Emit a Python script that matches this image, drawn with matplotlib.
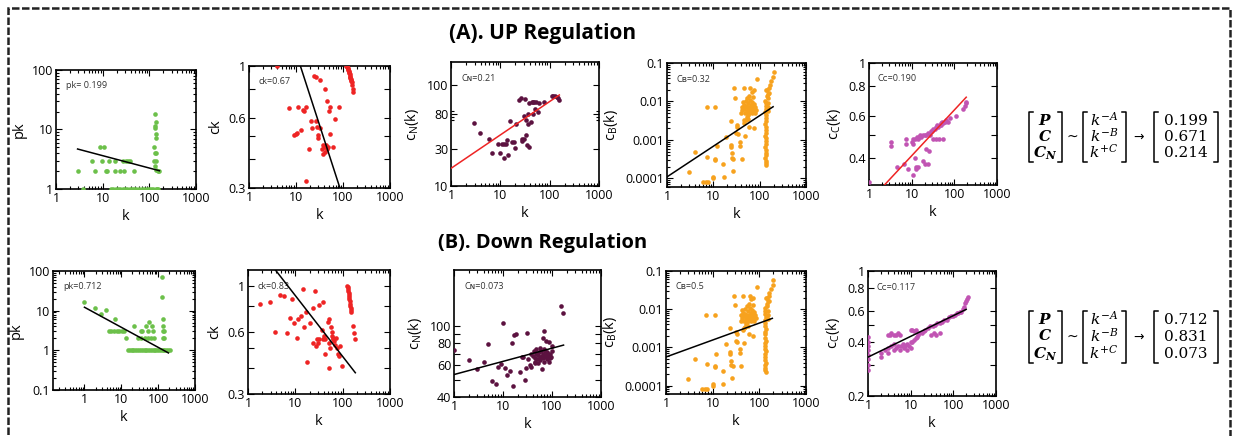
import matplotlib
matplotlib.use('Agg')
import matplotlib.pyplot as plt
import numpy as np
from matplotlib.lines import Line2D
from matplotlib.patches import Rectangle
from matplotlib.ticker import LogLocator, NullLocator, NullFormatter, FixedLocator

W, H = 1237, 436
plt.rcParams['font.family'] = ['Open Sans', 'DejaVu Sans']

GREEN = '#6cc04a'
RED = '#ee2424'
PURPLE = '#5c1240'
ORANGE = '#f7a21e'
ORCHID = '#c154b3'

# ---------------- (A) UP regulation ----------------
pk_up_k = [2.9, 6.9, 11.8, 12.6, 18.4, 23.5, 29, 47,
           5.8, 9.8, 14, 18, 27.7, 31, 35, 38.5,
           8.8, 10.7,
           3.8, 15, 17, 19, 21, 24, 27, 30, 34, 38, 42, 47, 53, 60, 68, 77, 88, 100, 110, 122,
           133, 137, 131, 135, 137, 140, 129, 130, 137, 128, 136, 131, 140, 150, 160, 145, 155, 138]
pk_up = [2, 2, 2, 2, 2, 2, 2, 2,
         3, 3, 3, 3, 3, 3, 3, 3,
         5, 5,
         1, 1, 1, 1, 1, 1, 1, 1, 1, 1, 1, 1, 1, 1, 1, 1, 1, 1, 1, 1,
         18, 13.2, 11.3, 10.4, 8.4, 7.1, 5.1, 4.0, 4.0, 3.0, 3.0, 2.4, 2.1, 2.0, 2.0, 1, 1, 1]

ck_up_k = [4.0, 7.1, 9.1, 9.9, 10.6, 11.3, 13, 14, 15, 16.3, 16.7, 18.5, 20.4, 22, 24.3, 27.3,
           26, 28, 28.7, 30, 32, 32.5, 35, 37, 38, 40, 42, 44, 46, 48, 41, 46, 50, 54, 52, 60, 66, 81,
           118, 121, 124, 126, 128, 130, 132, 134, 136, 138, 140, 142, 144, 146, 148, 150, 153, 156, 160, 165]
ck_up = [1.0, 0.66, 0.505, 0.51, 0.515, 0.67, 0.53, 0.65, 0.64, 0.67, 0.32, 0.44, 0.58, 0.54, 0.91, 0.90,
         0.58, 0.55, 0.505, 0.49, 0.87, 0.54, 0.44, 0.42, 0.46, 0.45, 0.43, 0.46, 0.44, 0.45, 0.80, 0.71, 0.64, 0.67, 0.51, 0.45, 0.59, 0.67,
         1.0, 1.0, 0.99, 0.98, 0.97, 0.96, 0.95, 0.94, 0.93, 0.92, 0.91, 0.90, 0.89, 0.88, 0.87, 0.86, 0.85, 0.83, 0.80, 0.77]

cn_up_k = [2.97, 3.9, 5.9, 6.9, 8.9, 9.9, 10.7, 12, 13.2, 12, 13.6, 14.6, 15.8, 17.1, 18.5, 20, 21, 24, 26, 31,
           27, 28, 30, 33, 35, 39, 30, 33, 36, 37, 42, 39, 44, 47, 49, 52, 45, 50, 57, 61, 77,
           110, 118, 128, 139, 150, 157]
cn_up = [65, 49, 41, 27, 35, 27, 34.5, 34.5, 34.5, 23, 39, 25, 70, 37, 37, 31, 64, 129, 136, 133,
         40, 38, 41, 46, 34, 31.6, 80, 71, 63, 85, 68, 119, 122, 120, 122, 122, 85, 100, 91, 117, 123,
         146, 146, 145, 142, 139, 131]

cc_up_k = [1, 3.3, 3.3, 4.6, 6.5, 7.2, 7.2, 8.2, 10.7, 11, 11, 11.7, 12.4, 12.8, 14, 18.5, 20, 24, 22, 26,
           31, 38, 44, 54,
           10, 12, 13, 14, 15, 16, 17, 18, 20, 22, 24, 27, 28, 30,
           32, 35, 38, 40, 42, 45, 48, 50, 52, 55, 60, 65, 70, 80,
           110, 160, 175, 190, 185]
cc_up = [0.32, 0.47, 0.45, 0.37, 0.38, 0.48, 0.46, 0.36, 0.34, 0.48, 0.46, 0.40, 0.37, 0.36, 0.37, 0.39, 0.38, 0.38, 0.44, 0.43,
         0.48, 0.48, 0.48, 0.48,
         0.47, 0.48, 0.49, 0.48, 0.49, 0.50, 0.49, 0.50, 0.50, 0.50, 0.51, 0.50, 0.52, 0.52,
         0.53, 0.53, 0.54, 0.55, 0.54, 0.55, 0.56, 0.55, 0.57, 0.56, 0.57, 0.58, 0.57, 0.59,
         0.60, 0.64, 0.66, 0.68, 0.69]

# betweenness is the same scatter in both rows
cb_k = [3, 4.1, 6, 7, 7.5, 7.2, 7.4, 11, 10, 10, 11, 11, 11.8, 17, 16.5, 19, 24, 24, 25, 25, 24, 26, 27, 28, 30,
        31, 32, 33, 34, 38, 38, 41, 45, 41, 46, 50, 48, 52, 57, 62, 67, 74, 87, 59, 74, 40, 45,
        42, 45, 48, 50, 52, 54, 55, 57, 58, 60, 62, 63, 65, 67, 68, 70, 72, 73, 75, 78, 80, 55, 47, 60, 66, 50, 85, 43, 52,
        133, 135, 134, 136, 133, 135, 134, 136, 133, 135, 134, 136, 133, 135, 134, 136, 133, 135, 134, 136, 133, 135, 134, 136,
        145, 150, 148, 152, 150, 155, 160, 165, 180, 195, 200, 158, 145, 140]
cb = [1.5e-4, 5e-4, 8e-5, 8e-5, 8e-5, 7e-3, 3.6e-4, 7e-3, 1.1e-4, 1e-4, 3e-4, 3.3e-4, 6.8e-4, 1.1e-4, 2.4e-4, 1.2e-3,
      7.5e-4, 6.5e-4, 4.5e-4, 3.5e-4, 3.2e-3, 1.6e-4, 3.2e-4, 0.022, 0.0125,
      1.5e-3, 2.5e-3, 2.2e-3, 1.4e-3, 9e-4, 7e-4, 3.2e-4, 0.022, 0.007, 3.3e-3, 3.4e-3, 1.3e-3, 4e-3, 3.6e-3, 0.022, 0.018, 0.02, 0.038, 2.2e-3, 2e-3, 5e-3, 2.8e-3,
      0.006, 0.008, 0.005, 0.01, 0.007, 0.012, 0.006, 0.009, 0.005, 0.007, 0.011, 0.006, 0.008, 0.005, 0.0095, 0.007, 0.013, 0.006, 0.0085, 0.005, 0.007, 0.0045, 0.0065, 0.014, 0.0065, 0.0075, 0.006, 0.0095, 0.0055,
      0.0105, 0.009, 0.0075, 0.0062, 0.0052, 0.0044, 0.0037, 0.0031, 0.0026, 0.0022, 0.0018, 0.0015, 0.0013, 0.0011, 0.00092, 0.00078,
      0.00066, 0.00056, 0.00047, 0.0004, 0.00034, 0.00029, 0.00025, 0.00023,
      0.02, 0.016, 0.012, 0.009, 0.007, 0.0055, 0.022, 0.027, 0.034, 0.044, 0.058, 0.0165, 0.0135, 0.02]

# ---------------- (B) DOWN regulation ----------------
pk_dn_k = [1, 1.9, 2.9, 3.8, 6.7, 4.7, 5.4, 6.4, 7.5, 8.8, 10.2, 11.6, 13.5, 22, 35, 48, 56, 70,
           28, 35, 43, 53, 65, 76, 37, 53, 73, 130, 130, 137, 137, 137, 142, 135, 142,
           15, 17, 19, 21, 24, 27, 30, 34, 38, 43, 48, 54, 60, 67, 75, 84, 94, 105, 118, 132, 148, 165, 185, 205]
pk_dn = [17, 11.5, 8.3, 10.5, 6.2, 3, 3, 3, 3, 3, 3, 3, 2, 4.2, 3, 4.2, 5.3, 4.2,
         2, 2, 2, 2, 2, 2, 3, 3, 3, 69, 22.6, 6.1, 4.2, 3.1, 3.1, 2, 2,
         1, 1, 1, 1, 1, 1, 1, 1, 1, 1, 1, 1, 1, 1, 1, 1, 1, 1, 1, 1, 1, 1, 1, 1]

ck_dn_k = [1.8, 2.85, 3.8, 4.7, 5.8, 6.6, 7.6, 8.7, 9.4, 10.6, 11.4, 13, 14.6, 15.3, 16.7, 18, 20.6, 24, 23.3, 26,
           27, 28.5, 30, 31.5, 32, 37.7, 36, 38, 41, 43, 43, 48, 51, 52, 54, 52, 57, 59, 60, 62, 64, 67, 70, 72, 76, 79, 83, 86, 97,
           125, 127, 129, 131, 133, 135, 137, 139, 141, 143, 145, 147, 149, 151, 165, 170, 185]
ck_dn = [0.82, 0.83, 0.60, 0.90, 0.89, 0.59, 0.70, 0.86, 0.66, 0.56, 0.69, 0.71, 0.96, 0.63, 0.75, 0.43, 0.66, 0.78, 0.53, 0.94,
         0.51, 0.55, 0.53, 0.55, 0.81, 0.83, 0.61, 0.55, 0.57, 0.55, 0.47, 0.67, 0.69, 0.53, 0.50, 0.40, 0.63, 0.60, 0.57, 0.55, 0.56, 0.54, 0.52, 0.56, 0.50, 0.47, 0.46, 0.51, 0.41,
         1.0, 0.98, 0.96, 0.94, 0.92, 0.90, 0.88, 0.86, 0.84, 0.82, 0.80, 0.78, 0.76, 0.75, 0.64, 0.59, 0.55]

cn_dn_k = [1, 2, 3, 4.1, 5, 5.9, 7.1, 7.8, 9, 9.9, 11, 11.9, 13.9, 15, 15.8, 16.8, 18.4, 22.4, 24.2, 26.1, 28.3, 29.6,
           30.6, 32, 35.8, 37, 65, 69, 76, 85, 99, 150, 166,
           38, 40, 42, 44, 45, 47, 48, 50, 52, 53, 55, 56, 58, 60, 62, 63, 65, 67, 68, 70, 72, 75, 78, 80, 82, 85, 88, 90, 92, 95, 100, 45, 57, 73]
cn_dn = [73, 64, 57, 63, 79, 49, 47, 59, 61, 104, 58, 53, 56, 80, 46, 89, 90, 55, 67, 67, 50, 58,
         91, 65, 60, 59, 86, 93, 82, 81, 77, 129, 118,
         70, 68, 72, 63, 66, 70, 74, 65, 69, 62, 71, 67, 64, 72, 68, 57, 70, 66, 74, 63, 69, 67, 71, 65, 70, 68, 63, 66, 70, 67, 72, 62, 75, 72]

cc_dn_k = [1, 1, 1, 1, 1, 1, 1, 1,
           2, 2, 2.5, 3, 3, 3.5, 4, 4, 4.5, 5, 5.5, 6, 6.5, 7, 7.5, 8, 8, 9, 10, 10, 11, 12, 13, 14, 15, 16, 18, 20, 22, 25,
           3, 3.2, 3.5, 4, 4.5, 5, 5.5, 10, 11, 12, 13,
           30, 35, 40, 48,
           28, 33, 38, 42, 48, 55, 62, 70, 80, 90, 98, 110, 120, 130, 140, 155,
           165, 175, 185, 195, 205, 215]
cc_dn = [0.43, 0.40, 0.38, 0.36, 0.34, 0.32, 0.30, 0.28,
         0.35, 0.33, 0.36, 0.37, 0.35, 0.38, 0.36, 0.39, 0.37, 0.38, 0.36, 0.38, 0.39, 0.37, 0.38, 0.39, 0.36, 0.38, 0.40, 0.37, 0.40, 0.41, 0.42, 0.43, 0.44, 0.45, 0.45, 0.46, 0.47, 0.48,
         0.44, 0.44, 0.45, 0.44, 0.44, 0.45, 0.44, 0.47, 0.47, 0.46, 0.47,
         0.44, 0.45, 0.44, 0.45,
         0.49, 0.49, 0.50, 0.51, 0.51, 0.52, 0.53, 0.53, 0.55, 0.56, 0.56, 0.57, 0.58, 0.58, 0.59, 0.59,
         0.61, 0.63, 0.66, 0.68, 0.70, 0.72]

# fitted power-law lines (end points)
fit_pk_up = ([2.9, 164], [4.7, 2.03])
fit_ck_up = ([12.4, 86], [1.0, 0.3])
fit_cn_up = ([1, 157], [16.9, 150])
fit_cb_up = ([1, 195], [1.1e-4, 7.3e-3])
fit_cc_up = ([2.3, 190], [0.31, 0.72])
fit_pk_dn = ([1, 190], [12.2, 0.86])
fit_ck_dn = ([3.8, 185], [1.19, 0.38])
fit_cn_dn = ([1, 172], [53.4, 78])
fit_cb_dn = ([1, 190], [5.6e-4, 5.75e-3])
fit_cc_dn = ([1, 200], [0.33, 0.61])

exp_up = ['0.199', '0.671', '0.214']
exp_dn = ['0.712', '0.831', '0.073']


def box(x0, y0, x1, y1):
    return [x0 / W, 1 - y1 / H, (x1 - x0) / W, (y1 - y0) / H]


def style_ax(ax, ylim, yticks, ylabels, yminor=None, xlim=(1, 1000)):
    ax.set_xscale('log')
    ax.set_yscale('log')
    ax.set_xlim(xlim)
    ax.set_ylim(ylim)
    ax.set_xticks([1, 10, 100, 1000], ['1', '10', '100', '1000'])
    ax.xaxis.set_minor_locator(LogLocator(base=10, subs=np.arange(2, 10), numticks=20))
    ax.xaxis.set_minor_formatter(NullFormatter())
    ax.set_yticks(yticks, ylabels)
    if yminor == 'log':
        ax.yaxis.set_minor_locator(LogLocator(base=10, subs=np.arange(2, 10), numticks=20))
    elif yminor is None:
        ax.yaxis.set_minor_locator(NullLocator())
    else:
        ax.yaxis.set_minor_locator(FixedLocator(yminor))
    ax.yaxis.set_minor_formatter(NullFormatter())
    ax.tick_params(which='both', direction='in', top=True, right=True, labelsize=9, width=0.8, pad=2)
    ax.tick_params(which='major', length=4.5)
    ax.tick_params(which='minor', length=2.2)
    for sp in ax.spines.values():
        sp.set_linewidth(1.2)


def panel(pos, k, y, color, fit, fitcolor, ylabel, note, ylim, yticks, ylabels, yminor=None, xlim=(1, 1000)):
    ax = fig.add_axes(box(*pos))
    ax.scatter(k, y, s=11, color=color, linewidths=0, zorder=3)
    ax.plot(fit[0], fit[1], color=fitcolor, lw=1.1, zorder=4)
    style_ax(ax, ylim, yticks, ylabels, yminor, xlim)
    ax.set_xlabel('k', fontsize=10.5, labelpad=3)
    ax.set_ylabel(ylabel, fontsize=10.5, labelpad=4)
    ax.text(0.07, 0.87, note, transform=ax.transAxes, fontsize=6.5, color='#333333', va='center')
    return ax


def bracket(x0, x1, y0, y1):
    for xs, ys in (([x0 + 4, x0, x0, x0 + 4], [y0, y0, y1, y1]),
                   ([x1 - 4, x1, x1, x1 - 4], [y0, y0, y1, y1])):
        fig.add_artist(Line2D([v / W for v in xs], [1 - v / H for v in ys], color='black', lw=1.1))


def matrix(rows_y, top, bottom, values, size):
    bracket(1029, 1062, top, bottom)
    bracket(1083, 1126, top, bottom)
    bracket(1154, 1218, top, bottom)
    mid = rows_y[1]
    left = [r'$\boldsymbol{P}$', r'$\boldsymbol{C}$', r'$\boldsymbol{C}_{\boldsymbol{N}}$']
    powers = [r'$k^{-A}$', r'$k^{-B}$', r'$k^{+C}$']
    for yy, a, b, v in zip(rows_y, left, powers, values):
        fig.text(1045 / W, 1 - yy / H, a, ha='center', va='center', fontsize=size, math_fontfamily='dejavuserif')
        fig.text(1104 / W, 1 - yy / H, b, ha='center', va='center', fontsize=size, math_fontfamily='dejavuserif')
        fig.text(1186 / W, 1 - yy / H, v, ha='center', va='center', fontsize=size, family='DejaVu Serif')
    fig.text(1072 / W, 1 - mid / H, '~', ha='center', va='center', fontsize=10, family='DejaVu Sans')
    fig.text(1139 / W, 1 - mid / H, '\u2192', ha='center', va='center', fontsize=9, family='DejaVu Sans')


fig = plt.figure(figsize=(W / 100, H / 100), dpi=100)

# dashed frame around the whole figure
fig.add_artist(Rectangle((8 / W, -0.1), (1230 - 8) / W, 1.1 - 8 / H, transform=fig.transFigure,
                         fill=False, lw=1.8, ls=(0, (3, 1)), edgecolor='#222222'))

fig.text(543 / W, 1 - 33 / H, '(A). UP Regulation', ha='center', va='center', fontsize=15, fontweight='bold')
fig.text(543 / W, 1 - 243 / H, '(B). Down Regulation', ha='center', va='center', fontsize=14.5, fontweight='bold')

# row A
panel((56, 70, 196, 189), pk_up_k, pk_up, GREEN, fit_pk_up, 'black', 'pk', 'pk= 0.199',
      (1, 100), [1, 10, 100], ['1', '10', '100'], 'log')
panel((249, 66, 390, 188), ck_up_k, ck_up, RED, fit_ck_up, 'black', 'ck', 'ck=0.67',
      (0.3, 1), [0.3, 0.4, 0.5, 0.6, 0.8, 1], ['0.3', '', '', '0.6', '', '1'])
panel((451, 62, 599, 186), cn_up_k, cn_up, PURPLE, fit_cn_up, RED, r'c$_\mathregular{N}$(k)', 'C\u0274=0.21',
      (10, 400), [10, 30, 84, 200], ['10', '30', '80', '100'], [72, 77, 92])
panel((667, 63, 806, 187), cb_k, cb, ORANGE, fit_cb_up, 'black', r'c$_\mathregular{B}$(k)', 'C\u0299=0.32',
      (6e-5, 0.1), [1e-4, 1e-3, 1e-2, 0.1], ['0.0001', '0.001', '0.01', '0.1'], 'log')
panel((869, 63, 997, 185), cc_up_k, cc_up, ORCHID, fit_cc_up, RED, r'c$_\mathregular{C}$(k)', 'C\u1d04=0.190',
      (0.31, 1), [0.4, 0.5, 0.6, 0.8, 1], ['0.4', '', '0.6', '0.8', '1'])

# row B
panel((53, 271, 195, 390), pk_dn_k, pk_dn, GREEN, fit_pk_dn, 'black', 'pk', 'pk=0.712',
      (0.1, 100), [0.1, 1, 10, 100], ['0.1', '1', '10', '100'], 'log', xlim=(0.14, 1000))
panel((248, 270, 390, 394), ck_dn_k, ck_dn, RED, fit_ck_dn, 'black', 'ck', 'ck=0.83',
      (0.3, 1.19), [0.3, 0.4, 0.5, 0.6, 0.8, 1], ['0.3', '', '', '0.6', '', '1'])
panel((454, 270, 601, 397), cn_dn_k, cn_dn, PURPLE, fit_cn_dn, 'black', r'c$_\mathregular{N}$(k)', 'C\u0274=0.073',
      (40, 205), [40, 50, 60, 70, 80, 90, 100], ['40', '', '60', '', '80', '', '100'])
panel((666, 271, 806, 394), cb_k, cb, ORANGE, fit_cb_dn, 'black', r'c$_\mathregular{B}$(k)', 'C\u0299=0.5',
      (6e-5, 0.1), [1e-4, 1e-3, 1e-2, 0.1], ['0.0001', '0.001', '0.01', '0.1'], 'log')
panel((868, 271, 996, 396), cc_dn_k, cc_dn, ORCHID, fit_cc_dn, 'black', r'c$_\mathregular{C}$(k)', 'C\u1d04=0.117',
      (0.2, 1), [0.2, 0.3, 0.4, 0.5, 0.6, 0.8, 1], ['0.2', '', '0.4', '', '0.6', '0.8', '1'])

# exponent summaries
matrix([121, 137, 153], 112, 162, exp_up, 11)
matrix([320, 337, 354], 311, 363, exp_dn, 11)

fig.savefig('out.png', dpi=100)
